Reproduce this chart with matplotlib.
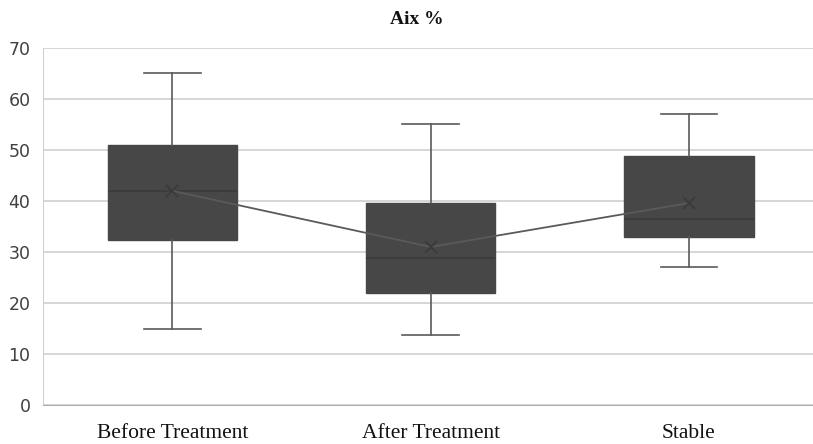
import matplotlib.pyplot as plt

categories = ["Before Treatment", "After Treatment", "Stable"]
whisker_low = [15, 13.8, 27]
q1 = [32.3, 21.9, 32.9]
medians = [42, 28.9, 36.4]
q3 = [51, 39.7, 48.8]
whisker_high = [65, 55, 57]
means = [42, 31, 39.6]
yticks = [0, 10, 20, 30, 40, 50, 60, 70]

BOX = "#474747"
LINE = "#5a5a5a"
GRID = "#d0d0d0"

fig = plt.figure(figsize=(8.13, 4.44), dpi=100)
ax = fig.add_axes([43 / 813, 39 / 444, 770 / 813, 357 / 444])

stats = []
for i, cat in enumerate(categories):
    stats.append({
        "label": cat, "whislo": whisker_low[i], "q1": q1[i], "med": medians[i],
        "q3": q3[i], "whishi": whisker_high[i], "mean": means[i], "fliers": [],
    })

pos = list(range(len(categories)))
ax.bxp(stats, positions=pos, widths=0.5, patch_artist=True, showmeans=False,
       boxprops=dict(facecolor=BOX, edgecolor=BOX, linewidth=1),
       medianprops=dict(color="#3a3a3a", linewidth=1.2),
       whiskerprops=dict(color=LINE, linewidth=1.2),
       capprops=dict(color=LINE, linewidth=1.2),
       capwidths=0.22, zorder=3)

ax.plot(pos, means, color=LINE, linewidth=1.3, zorder=4)
ax.plot(pos, means, linestyle="none", marker="x", markersize=9,
        markeredgewidth=1.3, color="#3a3a3a", zorder=5)

ax.set_xlim(-0.5, 2.48)
ax.set_ylim(0, 70)
ax.set_yticks(yticks)
ax.yaxis.grid(True, color=GRID, linewidth=1.2, zorder=0)
ax.set_axisbelow(True)
ax.tick_params(axis="y", length=0, pad=9, labelsize=12.5, labelcolor="#404040")
ax.tick_params(axis="x", length=0, pad=14)
ax.set_xticks(pos)
ax.set_xticklabels(categories, fontfamily="Liberation Serif", fontsize=15.5, color="#111111")
for lab in ax.get_yticklabels():
    lab.set_fontfamily("DejaVu Sans")

for s in ["top", "right"]:
    ax.spines[s].set_visible(False)
ax.spines["left"].set_color(GRID)
ax.spines["bottom"].set_color("#b0b0b0")

fig.text(0.513, 0.957, "Aix %", ha="center", va="center", fontweight="bold",
         fontfamily="Liberation Serif", fontsize=14, color="#111111")

fig.savefig("out.png", dpi=100)
